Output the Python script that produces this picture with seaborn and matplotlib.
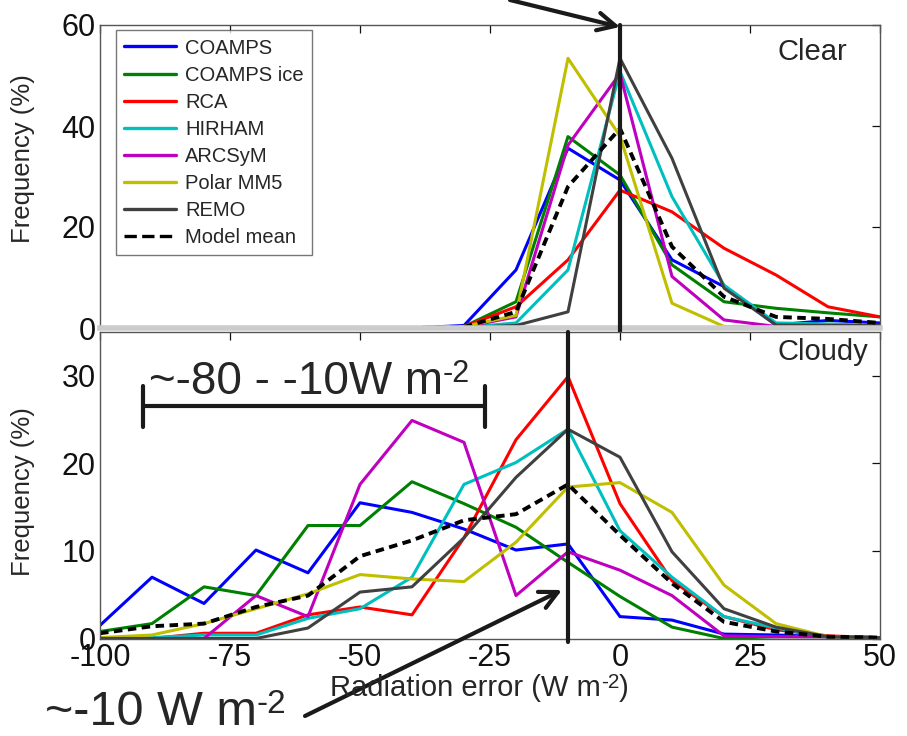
import matplotlib
matplotlib.use("Agg")
import matplotlib.pyplot as plt
import seaborn as sns
import pandas as pd
from matplotlib.lines import Line2D

sns.set_theme(style="white")
plt.rcParams['font.family'] = ['Liberation Sans', 'DejaVu Sans']
plt.rcParams['axes.unicode_minus'] = False

# ---------------- data ----------------
radiation_error = [-100, -90, -80, -70, -60, -50, -40, -30, -20, -10, 0, 10, 20, 30, 40, 50]
models = ["COAMPS", "COAMPS ice", "RCA", "HIRHAM", "ARCSyM", "Polar MM5", "REMO", "Model mean"]

clear_coamps    = [0, 0, 0, 0, 0, 0, 0, 0.5, 11.5, 35.6, 29.3, 13.5, 8.2, 0.6, 1.5, 1.0]
clear_coampsice = [0, 0, 0, 0, 0, 0, 0, 0.3, 5.2, 37.9, 30.3, 12.5, 5.2, 3.9, 3.0, 2.2]
clear_rca       = [0, 0, 0, 0, 0, 0, 0, 0.3, 4.2, 13.5, 27.3, 23.0, 15.8, 10.5, 4.2, 2.2]
clear_hirham    = [0, 0, 0, 0, 0, 0, 0, 0.1, 1.0, 11.5, 50.8, 26.0, 8.5, 1.0, 0.8, 0.5]
clear_arcsym    = [0, 0, 0, 0, 0, 0, 0, 0.2, 2.2, 36.2, 50.4, 10.2, 1.6, 0.3, 0.2, 0.2]
clear_polarmm5  = [0, 0, 0, 0, 0, 0, 0, 0.3, 2.5, 53.4, 38.0, 4.9, 0.3, 0.2, 0.2, 0.2]
clear_remo      = [0, 0, 0, 0, 0, 0, 0, 0.1, 0.5, 3.2, 53.4, 33.6, 7.9, 0.6, 0.5, 0.5]
clear_mean      = [0, 0, 0, 0, 0, 0, 0, 0.2, 3.2, 28.0, 39.5, 16.1, 6.2, 2.2, 1.8, 1.0]

cloudy_coamps    = [1.5, 7.0, 4.0, 10.1, 7.5, 15.5, 14.4, 12.5, 10.1, 10.8, 2.5, 2.1, 0.5, 0.4, 0.2, 0.1]
cloudy_coampsice = [0.8, 1.7, 5.9, 4.9, 12.9, 12.9, 17.9, 15.4, 12.7, 8.7, 4.8, 1.3, 0.0, 0.2, 0.2, 0.1]
cloudy_rca       = [0, 0, 0.6, 0.6, 2.7, 3.6, 2.7, 11.5, 22.7, 29.9, 15.4, 6.6, 2.5, 1.0, 0.3, 0.1]
cloudy_hirham    = [0, 0.1, 0.4, 0.4, 2.3, 3.4, 7.0, 17.6, 20.1, 23.9, 12.3, 7.0, 2.5, 1.2, 0.2, 0.1]
cloudy_arcsym    = [0, 0, 0, 4.9, 2.5, 17.6, 24.9, 22.4, 4.9, 9.9, 7.8, 4.9, 0.3, 0.2, 0.2, 0.1]
cloudy_polarmm5  = [0.1, 0.4, 1.7, 3.4, 5.1, 7.3, 6.8, 6.5, 11.0, 17.3, 17.8, 14.4, 6.1, 1.7, 0.2, 0.1]
cloudy_remo      = [0, 0, 0, 0, 1.2, 5.3, 5.9, 11.5, 18.4, 23.9, 20.7, 9.9, 3.4, 1.3, 0.2, 0.1]
cloudy_mean      = [0.6, 1.4, 1.7, 3.6, 4.9, 9.4, 11.2, 13.5, 14.2, 17.6, 11.8, 6.3, 1.9, 0.8, 0.2, 0.1]

xticks = [-100, -75, -50, -25, 0, 25, 50]
clear_yticks = [0, 20, 40, 60]
cloudy_yticks = [0, 10, 20, 30]

clear_series = [clear_coamps, clear_coampsice, clear_rca, clear_hirham,
                clear_arcsym, clear_polarmm5, clear_remo, clear_mean]
cloudy_series = [cloudy_coamps, cloudy_coampsice, cloudy_rca, cloudy_hirham,
                 cloudy_arcsym, cloudy_polarmm5, cloudy_remo, cloudy_mean]

colors = {"COAMPS": (0, 0, 1), "COAMPS ice": (0, 0.5, 0), "RCA": (1, 0, 0),
          "HIRHAM": (0, 0.75, 0.75), "ARCSyM": (0.75, 0, 0.75),
          "Polar MM5": (0.75, 0.75, 0), "REMO": (0.25, 0.25, 0.25),
          "Model mean": (0, 0, 0)}


def long_df(series):
    rows = []
    for m, vals in zip(models, series):
        for xv, yv in zip(radiation_error, vals):
            rows.append({"x": xv, "y": yv, "model": m})
    return pd.DataFrame(rows)


fig = plt.figure(figsize=(9.07, 7.36), dpi=100)
ax1 = fig.add_axes([100 / 907, 1 - 328 / 736, 780 / 907, 303 / 736])
ax2 = fig.add_axes([100 / 907, 1 - 638.5 / 736, 780 / 907, 306.5 / 736])


def text_with_sup(target, x, y, main, sup, fs, sup_fs, tail=None, **kw):
    t = target.text(x, y, main, fontsize=fs, **kw)
    s = ax2.annotate(sup, xy=(1.0, 1.02), xycoords=t, ha="left", va="top",
                     fontsize=sup_fs, annotation_clip=False)
    if tail:
        ax2.annotate(tail, xy=(1.0, 0.0), xycoords=(s, t), ha="left", va="bottom",
                     fontsize=fs, annotation_clip=False)
    return t, s


dash_map = {m: "" for m in models}
dash_map["Model mean"] = (2.2, 1.4)

for ax, series in [(ax1, clear_series), (ax2, cloudy_series)]:
    df = long_df(series)
    sns.lineplot(data=df, x="x", y="y", hue="model", style="model",
                 hue_order=models, style_order=models, palette=colors,
                 dashes=dash_map, ax=ax, legend=False, linewidth=2.2,
                 estimator=None, sort=False)
    ax.get_lines()[-1].set_linewidth(2.8)

tick_fs = 22
for ax in (ax1, ax2):
    ax.set_xlim(-100, 50)
    ax.set_xticks(xticks)
    ax.tick_params(direction="in", length=6, width=0.9, top=True, right=True,
                   labelsize=tick_fs, colors="#111111", pad=3)
    for s in ax.spines.values():
        s.set_color("#555555")
        s.set_linewidth(1.0)
    ax.set_ylabel("Frequency (%)", fontsize=18.5)

ax1.set_ylim(0, 60)
ax1.set_yticks(clear_yticks)
ax1.set_xticklabels([])
ax1.set_xlabel("")
ax1.spines["bottom"].set_color("#cccccc")
ax1.spines["bottom"].set_linewidth(4)
ax1.yaxis.set_label_coords(-0.083, 0.56)

ax2.set_ylim(0, 35)
ax2.set_yticks(cloudy_yticks)
ax2.set_xticklabels([str(t) for t in xticks])
ax2.set_xlabel("")
ax2.yaxis.set_label_coords(-0.083, 0.48)

# x label with hyphen superscript
text_with_sup(fig, 330 / 907, 1 - 696 / 736, "Radiation error (W m", "-2", 21, 15,
              tail=")", ha="left", va="baseline")

# legend
handles = [Line2D([], [], color=colors[m], lw=2.4,
                  linestyle="--" if m == "Model mean" else "-") for m in models]
leg = ax1.legend(handles, models, loc="upper left", bbox_to_anchor=(0.02, 0.982),
                 fontsize=14.5, frameon=True, fancybox=False, handlelength=2.6,
                 labelspacing=0.4, borderpad=0.4, handletextpad=0.45,
                 borderaxespad=0.0)
leg.get_frame().set_edgecolor("#555555")
leg.get_frame().set_linewidth(1.0)

ax1.text(0.868, 0.884, "Clear", transform=ax1.transAxes, ha="left", va="baseline", fontsize=21)
ax2.text(0.868, 0.909, "Cloudy", transform=ax2.transAxes, ha="left", va="baseline", fontsize=21)

# reference lines
ax1.axvline(0, ymin=-0.027, ymax=1.0, color="k", lw=3, clip_on=False, zorder=5)
ax2.axvline(-10, ymin=-0.012, ymax=1.0, color="k", lw=3, clip_on=False, zorder=5)

# bracket and annotation text in the cloudy panel
ax2.plot([-91.7, -26.0], [26.6, 26.6], color="k", lw=3, zorder=6)
ax2.plot([-91.7, -91.7], [24.1, 28.8], color="k", lw=3, zorder=6)
ax2.plot([-26.0, -26.0], [24.1, 28.8], color="k", lw=3, zorder=6)
text_with_sup(ax2, -90.6, 27.9, "~-80 - -10W m", "-2", 33, 22,
              ha="left", va="baseline", zorder=7)

# arrows
ax1.annotate("", xy=(620 / 907, 1 - 27 / 736), xycoords="figure fraction",
             xytext=(510 / 907, 1.0), textcoords="figure fraction",
             arrowprops=dict(arrowstyle="->", lw=3, color="k", mutation_scale=32,
                             shrinkA=0, shrinkB=0), annotation_clip=False)
ax2.annotate("", xy=(562 / 907, 1 - 590 / 736), xycoords="figure fraction",
             xytext=(305 / 907, 1 - 716 / 736), textcoords="figure fraction",
             arrowprops=dict(arrowstyle="->", lw=3, color="k", mutation_scale=32,
                             shrinkA=0, shrinkB=0), annotation_clip=False)
text_with_sup(fig, 45 / 907, 11 / 736, "~-10 W m", "-2", 35, 24, ha="left", va="baseline")

fig.savefig("out.png", dpi=100)
